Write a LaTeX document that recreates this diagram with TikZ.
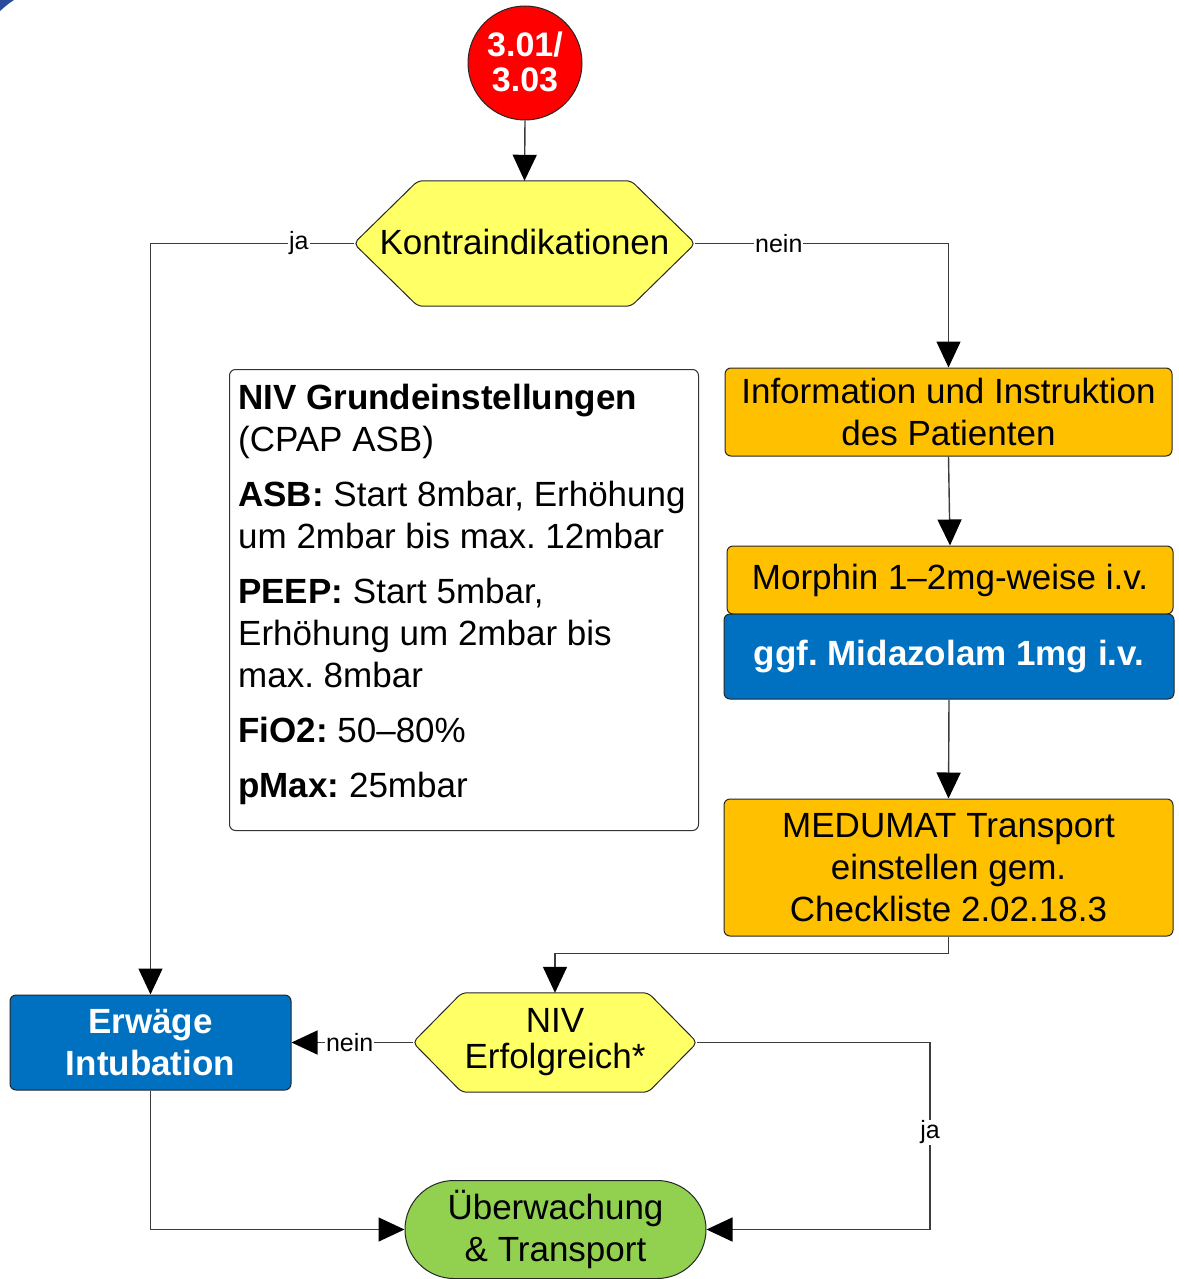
\documentclass[tikz,border=0pt]{standalone}
\usepackage{fontspec}
\setmainfont{Liberation Sans}
\usetikzlibrary{arrows.meta,backgrounds,calc}
\frenchspacing

\definecolor{decyellow}{HTML}{FFFF66}
\definecolor{steporange}{HTML}{FFC000}
\definecolor{stepblue}{HTML}{0070C0}
\definecolor{endgreen}{HTML}{92D050}
\definecolor{startred}{HTML}{FF0000}
\definecolor{linegray}{HTML}{3C3C3C}
\definecolor{cornerblue}{HTML}{2B4C9B}

\tikzset{
  x=1pt, y=-1pt,
  every node/.style={font=\fontsize{35}{42}\selectfont},
  stepbox/.style={draw=black!85, line width=1pt, rounded corners=6pt,
    fill=steporange, align=center, inner sep=0pt},
  bluebox/.style={stepbox, fill=stepblue, text=white,
    font=\fontsize{35}{42}\selectfont\bfseries},
  decision/.style={align=center, inner sep=0pt,
    font=\fontsize{35}{36}\selectfont},
  hexfill/.style={draw=black!85, line width=1pt, fill=decyellow,
    rounded corners=5pt},
  conn/.style={draw=linegray, line width=1.4pt},
  arr/.style={conn, -{Triangle[length=26pt,width=24pt,color=black]}},
  lbl/.style={fill=white, inner sep=1pt, font=\fontsize{25}{28}\selectfont},
}

\begin{document}
\begin{tikzpicture}
\useasboundingbox (0,0) rectangle (1178,1279);

% small corner piece
\fill[cornerblue] (0,0) -- (14,0) .. controls (8,4) .. (0,11) -- cycle;

% start marker
\node[circle, draw=black!85, line width=1pt, fill=startred, minimum size=114pt,
      inner sep=0pt, text=white, align=center,
      font=\fontsize{34}{35}\selectfont\bfseries] (start) at (525,63)
  {\raisebox{3pt}{3.01/}\\\raisebox{3pt}{3.03}};

% decision: contraindications
\node[decision, font=\fontsize{35}{42}\selectfont, minimum width=341pt,
      minimum height=125pt] (k) at (524.5,243.5) {\raisebox{3pt}{Kontraindikationen}};

% right column
\node[stepbox, minimum width=447pt, minimum height=88pt] (info) at (948.5,412)
  {Information und Instruktion\\des Patienten};
\node[stepbox, minimum width=446pt, minimum height=68pt] (morph) at (950,580)
  {Morphin 1--2mg-weise i.v.};
\node[bluebox, minimum width=450pt, minimum height=85pt] (mida) at (949,656.5)
  {ggf. Midazolam 1mg i.v.};
\node[stepbox, minimum width=449pt, minimum height=137pt] (medu) at (948.5,867.5)
  {MEDUMAT Transport\\einstellen gem.\\Checkliste 2.02.18.3};

% settings panel
\node[draw=black!80, line width=1pt, rounded corners=6pt, fill=white,
      minimum width=469pt, minimum height=461pt, inner sep=0pt,
      anchor=north west] (panel) at (229,369) {};
\node[anchor=north west, inner sep=0pt, align=left] (settings) at (238,383.5)
  {\textbf{NIV Grundeinstellungen}\\
   (CPAP ASB)\\[13pt]
   \textbf{ASB:} Start 8mbar, Erhöhung\\
   um 2mbar bis max. 12mbar\\[13pt]
   \textbf{PEEP:} Start 5mbar,\\
   Erhöhung um 2mbar bis\\
   max. 8mbar\\[13pt]
   \textbf{FiO2:} 50--80\%\\[13pt]
   \textbf{pMax:} 25mbar};

% decision: NIV success
\node[decision, minimum width=284pt, minimum height=99pt] (niv) at (555,1042.5)
  {NIV\\Erfolgreich*};

% intubation
\node[bluebox, minimum width=281pt, minimum height=95pt] (erw) at (150.5,1042.5)
  {Erwäge\\Intubation};

% end
\node[draw=black!85, line width=1pt, fill=endgreen, rounded corners=49pt,
      minimum width=301pt, minimum height=98pt, inner sep=0pt, align=center]
  (ueb) at (555.5,1229.5) {Überwachung\\\& Transport};

% hexagon outlines behind the decision texts
\begin{scope}[on background layer]
  \path[hexfill] (k.west) -- ($(k.north west)+(64,0)$) -- ($(k.north east)+(-64,0)$)
    -- (k.east) -- ($(k.south east)+(-64,0)$) -- ($(k.south west)+(64,0)$) -- cycle;
  \path[hexfill] (niv.west) -- ($(niv.north west)+(49,0)$) -- ($(niv.north east)+(-49,0)$)
    -- (niv.east) -- ($(niv.south east)+(-49,0)$) -- ($(niv.south west)+(49,0)$) -- cycle;
\end{scope}

% connectors
\draw[arr] (start.south) -- (k.north);
\draw[arr] (k.west) -- node[lbl, pos=0.27] {ja} (erw.north |- k.west) -- (erw.north);
\draw[arr] (k.east) -- node[lbl, pos=0.33] {nein} (info.north |- k.east) -- (info.north);
\draw[arr] (info.south) -- (morph.north);
\draw[arr] (mida.south) -- (medu.north);
\draw[arr] (medu.south) -- ++(0,17) -| (niv.north);
\draw[arr] (niv.west) -- node[lbl, pos=0.52] {nein} (erw.east);
\coordinate (jaTurn) at (930,1042.5);
\draw[arr] (niv.east) -- (jaTurn) -- node[lbl, pos=0.48] {ja} (jaTurn |- ueb.east) -- (ueb.east);
\draw[arr] (erw.south) -- (erw.south |- ueb.west) -- (ueb.west);

\end{tikzpicture}
\end{document}
